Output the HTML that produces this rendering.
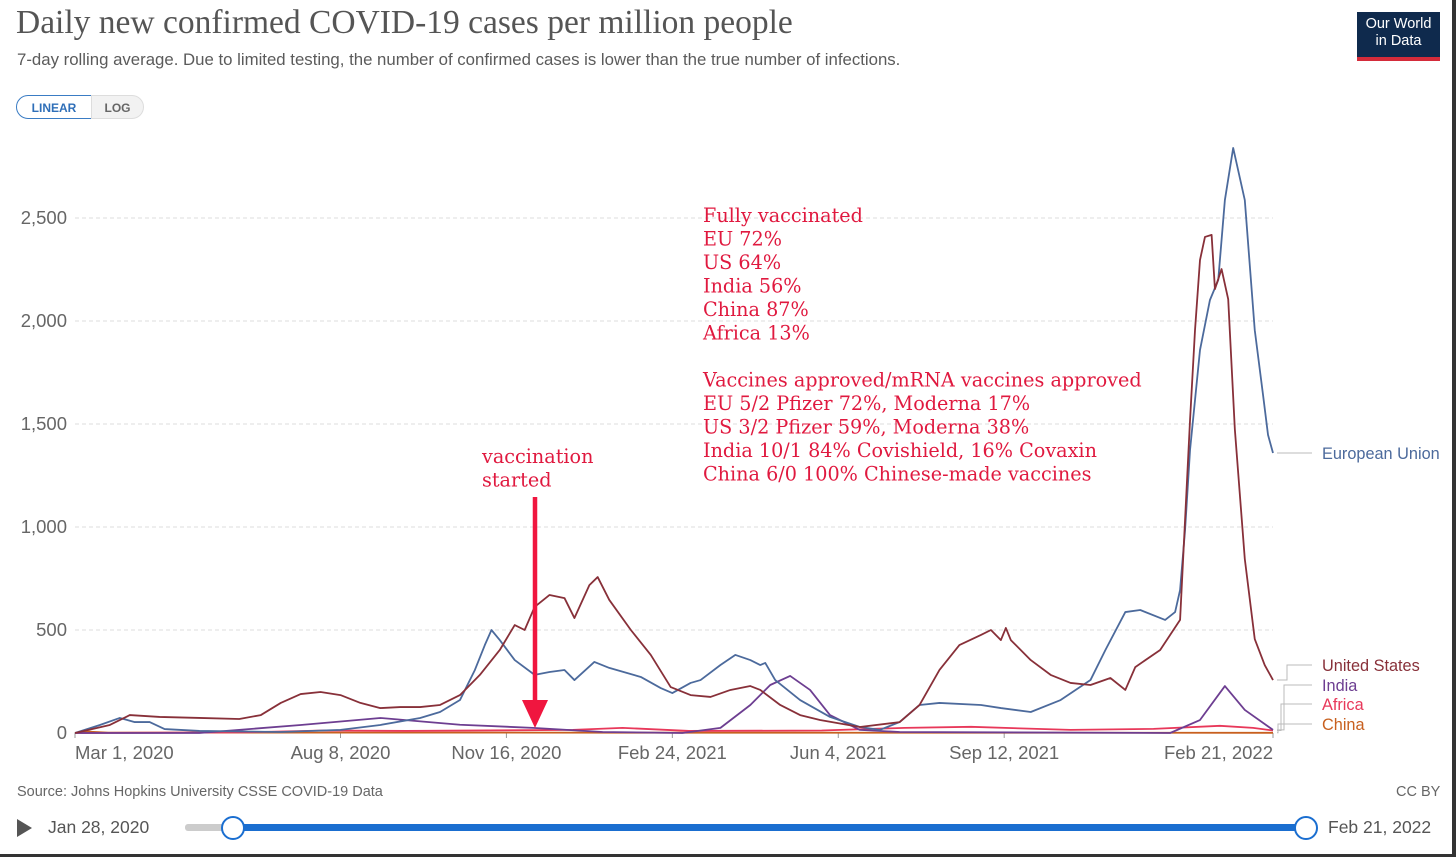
<!DOCTYPE html>
<html><head><meta charset="utf-8"><style>
body{margin:0;width:1456px;height:857px;background:#fff;overflow:hidden;font-family:"Liberation Sans",sans-serif;position:relative}
.abs{position:absolute}
.title{left:16px;top:4px;font-family:"Liberation Serif","DejaVu Serif",serif;font-size:33.5px;color:#555;white-space:nowrap}
.sub{left:17px;top:50px;font-size:16.8px;color:#5b5b5b;white-space:nowrap}
.btn{top:95px;height:24px;font-size:12px;font-weight:bold;line-height:24px;text-align:center;box-sizing:border-box}
</style></head><body>
<div class="abs title">Daily new confirmed COVID-19 cases per million people</div>
<div class="abs sub">7-day rolling average. Due to limited testing, the number of confirmed cases is lower than the true number of infections.</div>
<div class="abs btn" style="left:16px;width:76px;border:1.5px solid #3a7cc4;border-radius:12px 0 0 12px;color:#2f6fb8">LINEAR</div>
<div class="abs btn" style="left:91px;width:53px;border:1px solid #ddd;border-radius:0 12px 12px 0;color:#666;background:#f2f2f2">LOG</div>
<div class="abs" style="left:1357px;top:12px;width:83px;height:49px;background:#0f2a4d;color:#fff;font-size:14.5px;line-height:17px;text-align:center;padding-top:4px;box-sizing:border-box;border-bottom:4px solid #d42b3a">Our World<br>in Data</div>
<div class="abs" style="left:1452px;top:0;width:4px;height:857px;background:#333"></div>
<div class="abs" style="left:0;top:854px;width:1456px;height:3px;background:#333"></div>
<svg class="abs" style="left:0;top:0" width="1456" height="857" id="chart"></svg>
<div class="abs" style="left:17px;top:784px;font-size:14.5px;color:#666">Source: Johns Hopkins University CSSE COVID-19 Data</div>
<div class="abs" style="left:1396px;top:784px;font-size:14.5px;color:#666">CC BY</div>
<div class="abs" style="left:17px;top:819px;width:0;height:0;border-left:15px solid #555;border-top:9px solid transparent;border-bottom:9px solid transparent"></div>
<div class="abs" style="left:48px;top:817px;font-size:17.5px;color:#555">Jan 28, 2020</div>
<div class="abs" style="left:185px;top:824px;width:1120px;height:7px;background:#ccc;border-radius:3px"></div>
<div class="abs" style="left:232px;top:824px;width:1073px;height:7px;background:#1a6ed0"></div>
<div class="abs" style="left:221px;top:816px;width:20px;height:20px;border:2px solid #1a6ed0;border-radius:50%;background:#fff"></div>
<div class="abs" style="left:1294px;top:816px;width:20px;height:20px;border:2px solid #1a6ed0;border-radius:50%;background:#fff"></div>
<div class="abs" style="left:1328px;top:817px;font-size:17.5px;color:#555">Feb 21, 2022</div>
<script>
const yTicks=[0,500,1000,1500,2000,2500];
const yTickLabels=["0","500","1,000","1,500","2,000","2,500"];
const xTickDays=[0,160,260,360,460,560,722];
const xTickLabels=["Mar 1, 2020","Aug 8, 2020","Nov 16, 2020","Feb 24, 2021","Jun 4, 2021","Sep 12, 2021","Feb 21, 2022"];
const euDays=[0,15,27,36,45,54,75,124,160,184,208,220,232,241,247,251,256,265,277,286,295,301,313,322,341,353,360,371,377,389,398,407,413,416,422,437,455,473,485,497,509,521,546,558,576,594,612,621,633,642,657,663,666,669,672,678,684,689,693,698,705,711,716,719,722];
const euVals=[0,39,73,53,53,19,10,5,15,39,73,102,160,306,427,500,451,354,282,296,306,257,345,316,272,218,194,243,257,330,379,354,330,340,257,160,78,29,15,53,136,146,136,121,102,160,257,403,587,597,549,587,694,985,1374,1859,2102,2199,2587,2840,2587,1956,1641,1447,1359];
const usDays=[0,21,33,51,75,99,112,124,136,148,160,172,184,196,208,220,232,244,256,265,271,277,286,295,301,310,315,322,335,347,359,371,383,395,407,413,425,437,449,473,497,509,521,533,546,552,558,561,564,576,588,600,612,624,633,639,654,666,669,672,675,678,681,685,687,691,695,699,705,711,717,722];
const usVals=[0,39,87,78,73,68,87,146,189,199,184,146,121,126,126,136,184,282,403,524,500,612,670,655,558,718,757,646,500,379,223,184,175,209,228,209,136,87,63,29,53,136,306,427,476,500,451,510,451,354,282,243,233,267,209,320,403,549,1034,1519,1956,2296,2408,2418,2155,2252,2106,1475,845,456,330,257];
const inDays=[0,75,136,184,232,276,318,366,389,407,419,431,443,455,473,497,660,678,693,705,722];
const inVals=[0,0,39,73,40,25,5,0,25,136,233,277,209,87,15,5,0,63,228,112,15];
const afDays=[0,100,150,200,300,330,370,450,500,540,600,650,690,710,722];
const afVals=[0,3,12,10,15,25,10,12,25,30,15,20,35,25,12];
const cnDays=[0,5,20,722];
const cnVals=[0,8,2,1];
const X0=75,X1=1273,Y0=733,DMAX=722;
const xs=d=>X0+d*(X1-X0)/DMAX;
const ys=v=>Y0-v*0.206;
const svg=document.getElementById('chart');
const NS='http://www.w3.org/2000/svg';
function mk(t,a){const e=document.createElementNS(NS,t);for(const k in a)e.setAttribute(k,a[k]);svg.appendChild(e);return e;}
yTicks.forEach((v,i)=>{
 const g=mk('line',{x1:X0,x2:X1,y1:ys(v),y2:ys(v),stroke:v?'#ddd':'#999','stroke-dasharray':v?'4,3':''});
 
 
 const t=mk('text',{x:67,y:ys(v)+6,'text-anchor':'end','font-size':18.5,fill:'#666','font-family':'Liberation Sans, sans-serif'});
 t.textContent=yTickLabels[i];
 
 
});
xTickDays.forEach((d,i)=>{
 const tk=mk('line',{x1:xs(d),x2:xs(d),y1:Y0,y2:Y0+5,stroke:'#999'});
 
 
 const anc=i==0?'start':(i==xTickDays.length-1?'end':'middle');
 const t=mk('text',{x:xs(d),y:Y0+26,'text-anchor':anc,'font-size':18.5,fill:'#666','font-family':'Liberation Sans, sans-serif'});
 t.textContent=xTickLabels[i];
 
 
});
function series(days,vals,col,name){
 const p=mk('polyline',{points:days.map((d,i)=>xs(d)+','+ys(vals[i])).join(' '),fill:'none',stroke:col,'stroke-width':1.8,'stroke-linejoin':'round'});
 
 
}
series(cnDays,cnVals,'#c8601f','china-line');
series(afDays,afVals,'#e8385a','africa-line');
series(inDays,inVals,'#6d3e91','india-line');
series(euDays,euVals,'#4c6a9c','eu-line');
series(usDays,usVals,'#883039','us-line');
const legend=[["European Union",'#4c6a9c',euVals[euVals.length-1],453],["United States",'#883039',usVals[usVals.length-1],665],["India",'#6d3e91',inVals[inVals.length-1],685],["Africa",'#e8385a',afVals[afVals.length-1],704],["China",'#c8601f',cnVals[cnVals.length-1],724]];
legend.forEach(([n,c,v,ly],i)=>{
 const ey=ys(v),mx=1290-i*3;
 const l=mk('polyline',{points:`${X1+4},${ey} ${mx},${ey} ${mx},${ly} 1312,${ly}`,fill:'none',stroke:'#bbb','stroke-width':1});
 
 
 const t=mk('text',{x:1322,y:ly+6,'font-size':16.3,fill:c,'font-family':'Liberation Sans, sans-serif'});
 t.textContent=n;
 
 
});
const ann=["Fully vaccinated","EU 72%","US 64%","India 56%","China 87%","Africa 13%","","Vaccines approved/mRNA vaccines approved","EU 5/2 Pfizer 72%, Moderna 17%","US 3/2 Pfizer 59%, Moderna 38%","India 10/1 84% Covishield, 16% Covaxin","China 6/0 100% Chinese-made vaccines"];
ann.forEach((s,i)=>{
 const t=mk('text',{x:703,y:222+i*23.5,'font-size':19.2,fill:'#e0193f','font-family':'DejaVu Serif, Liberation Serif, serif'});
 t.textContent=s;
 
 
});
["vaccination","started"].forEach((s,i)=>{
 const t=mk('text',{x:482,y:463+i*23.5,'font-size':19.2,fill:'#e0193f','font-family':'DejaVu Serif, Liberation Serif, serif'});
 t.textContent=s;
 
 
});
const ar=mk('line',{x1:535,x2:535,y1:497,y2:705,stroke:'#f0163f','stroke-width':4.5});


const ah=mk('polygon',{points:'522,700 548,700 535,728',fill:'#f0163f'});


</script>
</body></html>
